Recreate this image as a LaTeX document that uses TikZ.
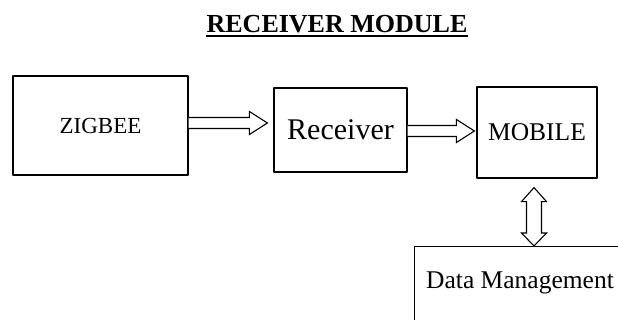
\documentclass[tikz,border=0pt]{standalone}
\usepackage{fontspec}
\setmainfont{Liberation Serif}
\usetikzlibrary{calc}
\tikzset{blok/.style={draw,line width=1.2pt,inner sep=0pt},
  hollow/.style={draw,line width=1.1pt,fill=white,line join=miter}}
% hollow block arrow, start -> tip
\newcommand{\fatright}[2]{%
  \draw[hollow] let \p1=(#1), \p2=(#2) in
    (\x1,\y1+5.5pt) -- (\x2-18pt,\y1+5.5pt) -- (\x2-18pt,\y1+11.5pt) -- (\x2,\y1)
    -- (\x2-18pt,\y1-11.5pt) -- (\x2-18pt,\y1-5.5pt) -- (\x1,\y1-5.5pt);}
% hollow double block arrow, top -> bottom
\newcommand{\fatupdown}[2]{%
  \draw[hollow] let \p1=(#1), \p2=(#2) in
    (\x1,\y1) -- (\x1+12.5pt,\y1-14pt) -- (\x1+7.5pt,\y1-14pt) -- (\x1+7.5pt,\y2+13pt)
    -- (\x1+12.5pt,\y2+13pt) -- (\x1,\y2) -- (\x1-12.5pt,\y2+13pt) -- (\x1-7.5pt,\y2+13pt)
    -- (\x1-7.5pt,\y1-14pt) -- (\x1-12.5pt,\y1-14pt) -- cycle;}
\begin{document}
\begin{tikzpicture}[x=1pt,y=-1pt,line join=round]
    \clip (0,0) rectangle (618,320);
    \node[anchor=base,inner sep=0pt,font=\fontsize{26}{30}\selectfont\bfseries] (title) at (337,33) {RECEIVER MODULE};
    \draw[line width=1.8pt] ($(title.base west)+(0,3)$) -- ($(title.base east)+(0,3)$);
    \node[blok,minimum width=175,minimum height=99,font=\fontsize{23}{27}\selectfont] (zig) at (100.5,125.5) {ZIGBEE};
    \node[blok,minimum width=133,minimum height=84,font=\fontsize{30}{34}\selectfont] (rec) at (340.5,130) {Receiver};
    \node[blok,minimum width=120,minimum height=91,font=\fontsize{25.5}{30}\selectfont] (mob) at (537,132.5) {MOBILE};
    \node[blok,minimum width=230,minimum height=100,anchor=north west] (dm) at (414,246) {};
    \node[font=\fontsize{25.5}{30}\selectfont] (dmtext) at (520,283) {Data Management};
    \coordinate (a) at ([yshift=2.5pt]zig.east);
    \coordinate (b) at ($(rec.west |- a)+(-6,0)$);
    \coordinate (c) at ([yshift=-1pt]rec.east);
    \coordinate (d) at ($(mob.west |- c)+(-2,0)$);
    \coordinate (e) at ($(mob.south)+(-3,9)$);
    \coordinate (f) at (e |- dm.north);
    \fatright{a}{b}
    \fatright{c}{d}
    \fatupdown{e}{f}
\end{tikzpicture}
\end{document}
